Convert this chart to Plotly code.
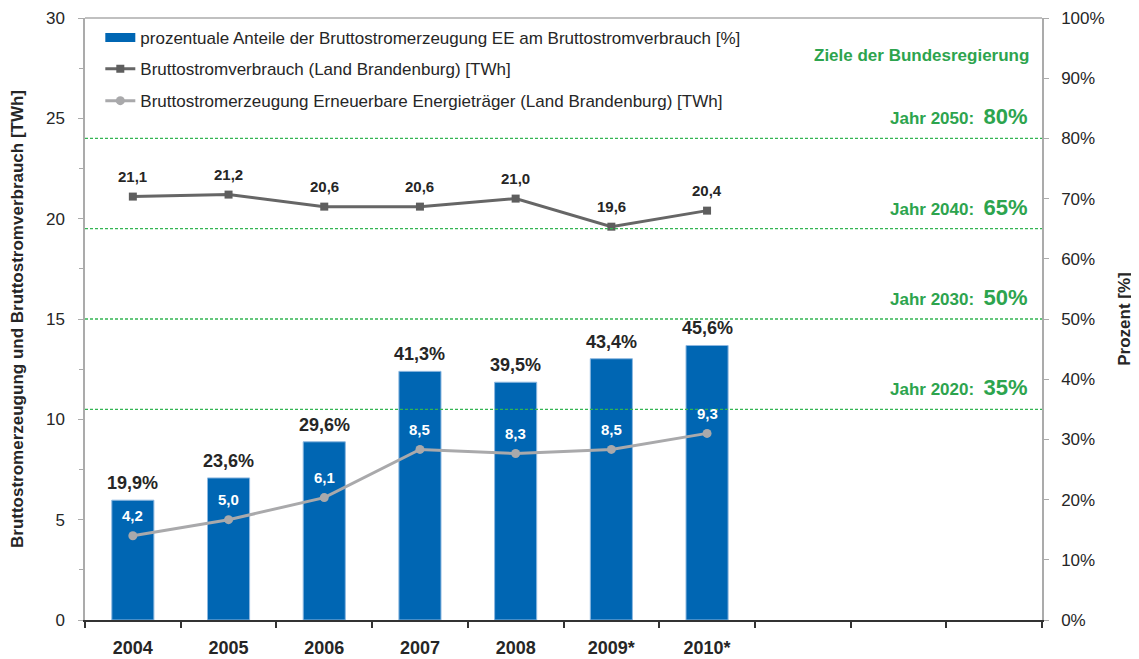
import plotly.graph_objects as go

categories = ["2004", "2005", "2006", "2007", "2008", "2009*", "2010*", " ", "  ", "   "]
years = ["2004", "2005", "2006", "2007", "2008", "2009*", "2010*"]
share_pct = [19.9, 23.6, 29.6, 41.3, 39.5, 43.4, 45.6]
consumption_twh = [21.1, 21.2, 20.6, 20.6, 21.0, 19.6, 20.4]
renewable_twh = [4.2, 5.0, 6.1, 8.5, 8.3, 8.5, 9.3]
target_years = ["2020", "2030", "2040", "2050"]
target_pct = [35, 50, 65, 80]

FONT = "Arial, Liberation Sans, sans-serif"
BLUE = "#0066B3"
DARK = "#666666"
LIGHT = "#A9A9AB"
GREEN = "#2DA44E"
TXT = "#262626"


def de(v, pct=False):
    s = f"{v:.1f}".replace(".", ",")
    return s + ("%" if pct else "")


xi = [categories.index(y) for y in years]

fig = go.Figure()

fig.add_trace(go.Bar(
    x=years, y=share_pct, yaxis="y",
    name="prozentuale Anteile der Bruttostromerzeugung EE am Bruttostromverbrauch [%]",
    marker=dict(color=BLUE, line=dict(color="#8DB8E0", width=1)),
    showlegend=False,
))
# legend entry for the bars (wide flat swatch like the original)
fig.add_trace(go.Scatter(
    x=[None], y=[None], yaxis="y", mode="lines",
    name="prozentuale Anteile der Bruttostromerzeugung EE am Bruttostromverbrauch [%]",
    line=dict(color=BLUE, width=9),
    legend="legend",
))
fig.add_trace(go.Scatter(
    x=years, y=consumption_twh, yaxis="y2", mode="lines+markers",
    name="Bruttostromverbrauch (Land Brandenburg) [TWh]",
    line=dict(color=DARK, width=3),
    marker=dict(symbol="square", size=8, color="#5E5E5E"),
    legend="legend2",
))
fig.add_trace(go.Scatter(
    x=years, y=renewable_twh, yaxis="y2", mode="lines+markers",
    name="Bruttostromerzeugung Erneuerbare Energieträger (Land Brandenburg) [TWh]",
    line=dict(color=LIGHT, width=3),
    marker=dict(symbol="circle", size=9, color=LIGHT),
    legend="legend3",
))

annotations = []
for x, v in zip(xi, share_pct):
    annotations.append(dict(x=x, y=v, xref="x", yref="y", text=de(v, True),
                            showarrow=False, yanchor="bottom", yshift=5,
                            font=dict(family=FONT, size=18, color=TXT, weight="bold")))
for x, v in zip(xi, consumption_twh):
    annotations.append(dict(x=x, y=v, xref="x", yref="y2", text=de(v),
                            showarrow=False, yanchor="middle", yshift=20,
                            font=dict(family=FONT, size=15, color=TXT, weight="bold")))
for x, v in zip(xi, renewable_twh):
    annotations.append(dict(x=x, y=v, xref="x", yref="y2", text=de(v),
                            showarrow=False, yanchor="middle", yshift=20,
                            font=dict(family=FONT, size=15, color="white", weight="bold")))

shapes = []
for yr, p in zip(target_years, target_pct):
    shapes.append(dict(type="line", xref="paper", yref="y", x0=0, x1=1, y0=p, y1=p,
                       line=dict(color="#33B552", width=1.3, dash="3px,2px"), layer="above"))
    annotations.append(dict(
        x=0.9875, xref="paper", y=p, yref="y", xanchor="right", yanchor="bottom",
        yshift=7, showarrow=False,
        text=f"Jahr {yr}:  <span style='font-size:22px'>{p}%</span>",
        font=dict(family=FONT, size=17, color=GREEN, weight="bold")))

annotations.append(dict(x=0.9885, xref="paper", y=0.9385, yref="paper",
                        xanchor="right", yanchor="middle", showarrow=False,
                        text="Ziele der Bundesregierung",
                        font=dict(family=FONT, size=17, color=GREEN, weight="bold")))

# top frame line
shapes.append(dict(type="line", xref="paper", yref="paper", x0=0, x1=1, y0=1, y1=1,
                   line=dict(color="#ABABAB", width=1.5)))

leg_common = dict(xref="paper", yref="paper", x=0.016, xanchor="left", yanchor="middle",
                  bgcolor="rgba(0,0,0,0)", font=dict(family=FONT, size=17, color=TXT))

fig.update_layout(
    width=1131, height=651,
    margin=dict(l=77, r=97, t=10, b=39),
    paper_bgcolor="white", plot_bgcolor="white",
    font=dict(family=FONT, size=17, color=TXT),
    bargap=0.56,
    showlegend=True,
    legend=dict(y=0.967, **leg_common),
    legend2=dict(y=0.915, **leg_common),
    legend3=dict(y=0.862, **leg_common),
    xaxis=dict(type="category", categoryorder="array", categoryarray=categories,
               range=[-0.5, len(categories) - 0.5], tickson="boundaries",
               ticks="outside", ticklen=6, tickwidth=1.5, tickcolor="#333",
               showline=True, linecolor="#333", linewidth=2,
               ticklabelstandoff=10, automargin=False,
               tickfont=dict(family=FONT, size=18, color=TXT, weight="bold"),
               showgrid=False),
    yaxis=dict(side="right", range=[0, 100], dtick=10, ticksuffix="%",
               ticks="outside", ticklen=5, tickcolor="#ABABAB",
               showline=True, linecolor="#ABABAB", linewidth=1.5,
               showgrid=False, zeroline=False, automargin=False,
               ticklabelstandoff=9,
               tickfont=dict(family=FONT, size=17, color=TXT),
               title=dict(text="Prozent [%]", standoff=14,
                          font=dict(family=FONT, size=17, color=TXT, weight="bold"))),
    yaxis2=dict(side="left", overlaying="y", range=[0, 30], dtick=5,
                ticks="outside", ticklen=5, tickcolor="#ABABAB",
                minor=dict(dtick=2.5, ticks="outside", ticklen=4, tickcolor="#ABABAB"),
                showline=True, linecolor="#ABABAB", linewidth=1.5,
                showgrid=False, zeroline=False, automargin=False,
                ticklabelstandoff=10,
                tickfont=dict(family=FONT, size=17, color=TXT),
                title=dict(text="Bruttostromerzeugung und Bruttostromverbrauch [TWh]",
                           standoff=20,
                           font=dict(family=FONT, size=17, color=TXT, weight="bold"))),
    annotations=annotations,
    shapes=shapes,
)

fig.write_html("out.html")
